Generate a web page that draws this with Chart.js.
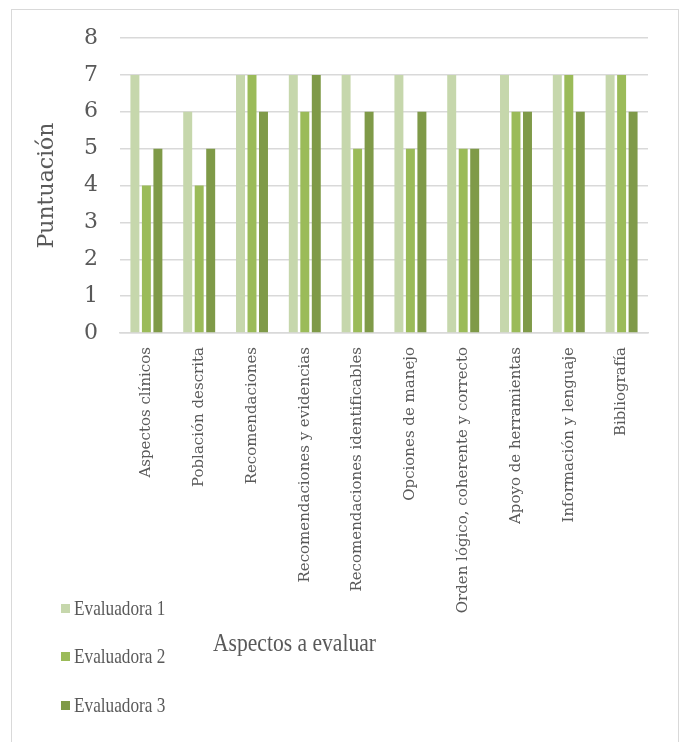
<!DOCTYPE html>
<html lang="es">
<head>
<meta charset="utf-8">
<title>Puntuación por aspectos</title>
<script src="https://cdn.jsdelivr.net/npm/chart.js@4.4.1/dist/chart.umd.min.js"></script>
<style>
  body { margin: 0; background: #fff; }
  #wrap { position: relative; width: 683px; height: 742px; overflow: hidden; }
  #frame {
    position: absolute; left: 11px; top: 9px; width: 668px; height: 780px;
    border: 1.5px solid #d9d9d9; box-sizing: border-box;
  }
  #chart { position: absolute; left: 0; top: 0; }
  #legend { position: absolute; left: 61px; top: 594px; }
  .item { height: 48.5px; display: flex; align-items: center; position: relative; top: -10px; }
  .box { width: 9px; height: 9px; margin-right: 4px; }
  .label {
    font-family: "Liberation Serif", serif; font-size: 21px; color: #595959;
    transform: scaleX(0.82); transform-origin: left center; white-space: nowrap;
  }
  #xtitle {
    position: absolute; left: 213px; top: 628px;
    font-family: "Liberation Serif", serif; font-size: 26px; color: #595959;
    transform: scaleX(0.83); transform-origin: left center; white-space: nowrap;
  }
</style>
</head>
<body>
<div id="wrap">
  <div id="frame"></div>
  <canvas id="chart" width="683" height="742"></canvas>
  <div id="legend"></div>
  <div id="xtitle">Aspectos a evaluar</div>
</div>
<script>
const categories = [
  "Aspectos clínicos",
  "Población descrita",
  "Recomendaciones",
  "Recomendaciones y evidencias",
  "Recomendaciones identificables",
  "Opciones de manejo",
  "Orden lógico, coherente y correcto",
  "Apoyo de herramientas",
  "Información y lenguaje",
  "Bibliografía"
];
const seriesNames = ["Evaluadora 1", "Evaluadora 2", "Evaluadora 3"];
const evaluadora1 = [7, 6, 7, 7, 7, 7, 7, 7, 7, 7];
const evaluadora2 = [4, 4, 7, 6, 5, 5, 5, 6, 7, 7];
const evaluadora3 = [5, 5, 6, 7, 6, 6, 5, 6, 6, 6];
const colors = ["#c6d7ac", "#9bbb59", "#7f9a48"];
const yTicks = [0, 1, 2, 3, 4, 5, 6, 7, 8];

const textColor = "#595959";
const gridColor = "#d9d9d9";
const serif = "'DejaVu Serif', serif";

// legend in html (stacked at bottom-left like the original)
const legend = document.getElementById("legend");
seriesNames.forEach((name, i) => {
  const row = document.createElement("div");
  row.className = "item";
  row.innerHTML = `<span class="box" style="background:${colors[i]}"></span><span class="label">${name}</span>`;
  legend.appendChild(row);
});

const values = [evaluadora1, evaluadora2, evaluadora3];

const data = {
  labels: categories,
  datasets: seriesNames.map((name, i) => ({
    label: name,
    data: values[i],
    backgroundColor: colors[i],
    borderWidth: 0,
    categoryPercentage: 0.653,
    barPercentage: 0.78
  }))
};

const config = {
  type: "bar",
  data,
  options: {
    responsive: false,
    animation: false,
    layout: { padding: { top: 38, right: 35, left: 0, bottom: 0 } },
    plugins: {
      legend: { display: false },
      tooltip: { enabled: false }
    },
    scales: {
      x: {
        grid: { display: false },
        border: { display: true, color: gridColor, width: 1.5 },
        ticks: {
          color: textColor,
          font: { family: serif, size: 15 },
          minRotation: 90,
          maxRotation: 90,
          autoSkip: false,
          padding: 6
        },
        afterFit: (scale) => { scale.height = 742 - 333; }
      },
      y: {
        min: 0,
        max: 8,
        afterBuildTicks: (scale) => { scale.ticks = yTicks.map(v => ({ value: v })); },
        grid: { color: gridColor, lineWidth: 1.5, drawTicks: false },
        border: { display: false },
        ticks: {
          color: textColor,
          font: { family: serif, size: 22 },
          padding: 22
        },
        title: {
          display: true,
          text: "Puntuación",
          color: textColor,
          font: { family: serif, size: 22, weight: "normal" },
          padding: { top: 34, bottom: 0 }
        },
        afterFit: (scale) => { scale.width = 120; }
      }
    },
    events: []
  }
};

const myChart = new Chart(document.getElementById("chart"), config);
</script>
</body>
</html>
